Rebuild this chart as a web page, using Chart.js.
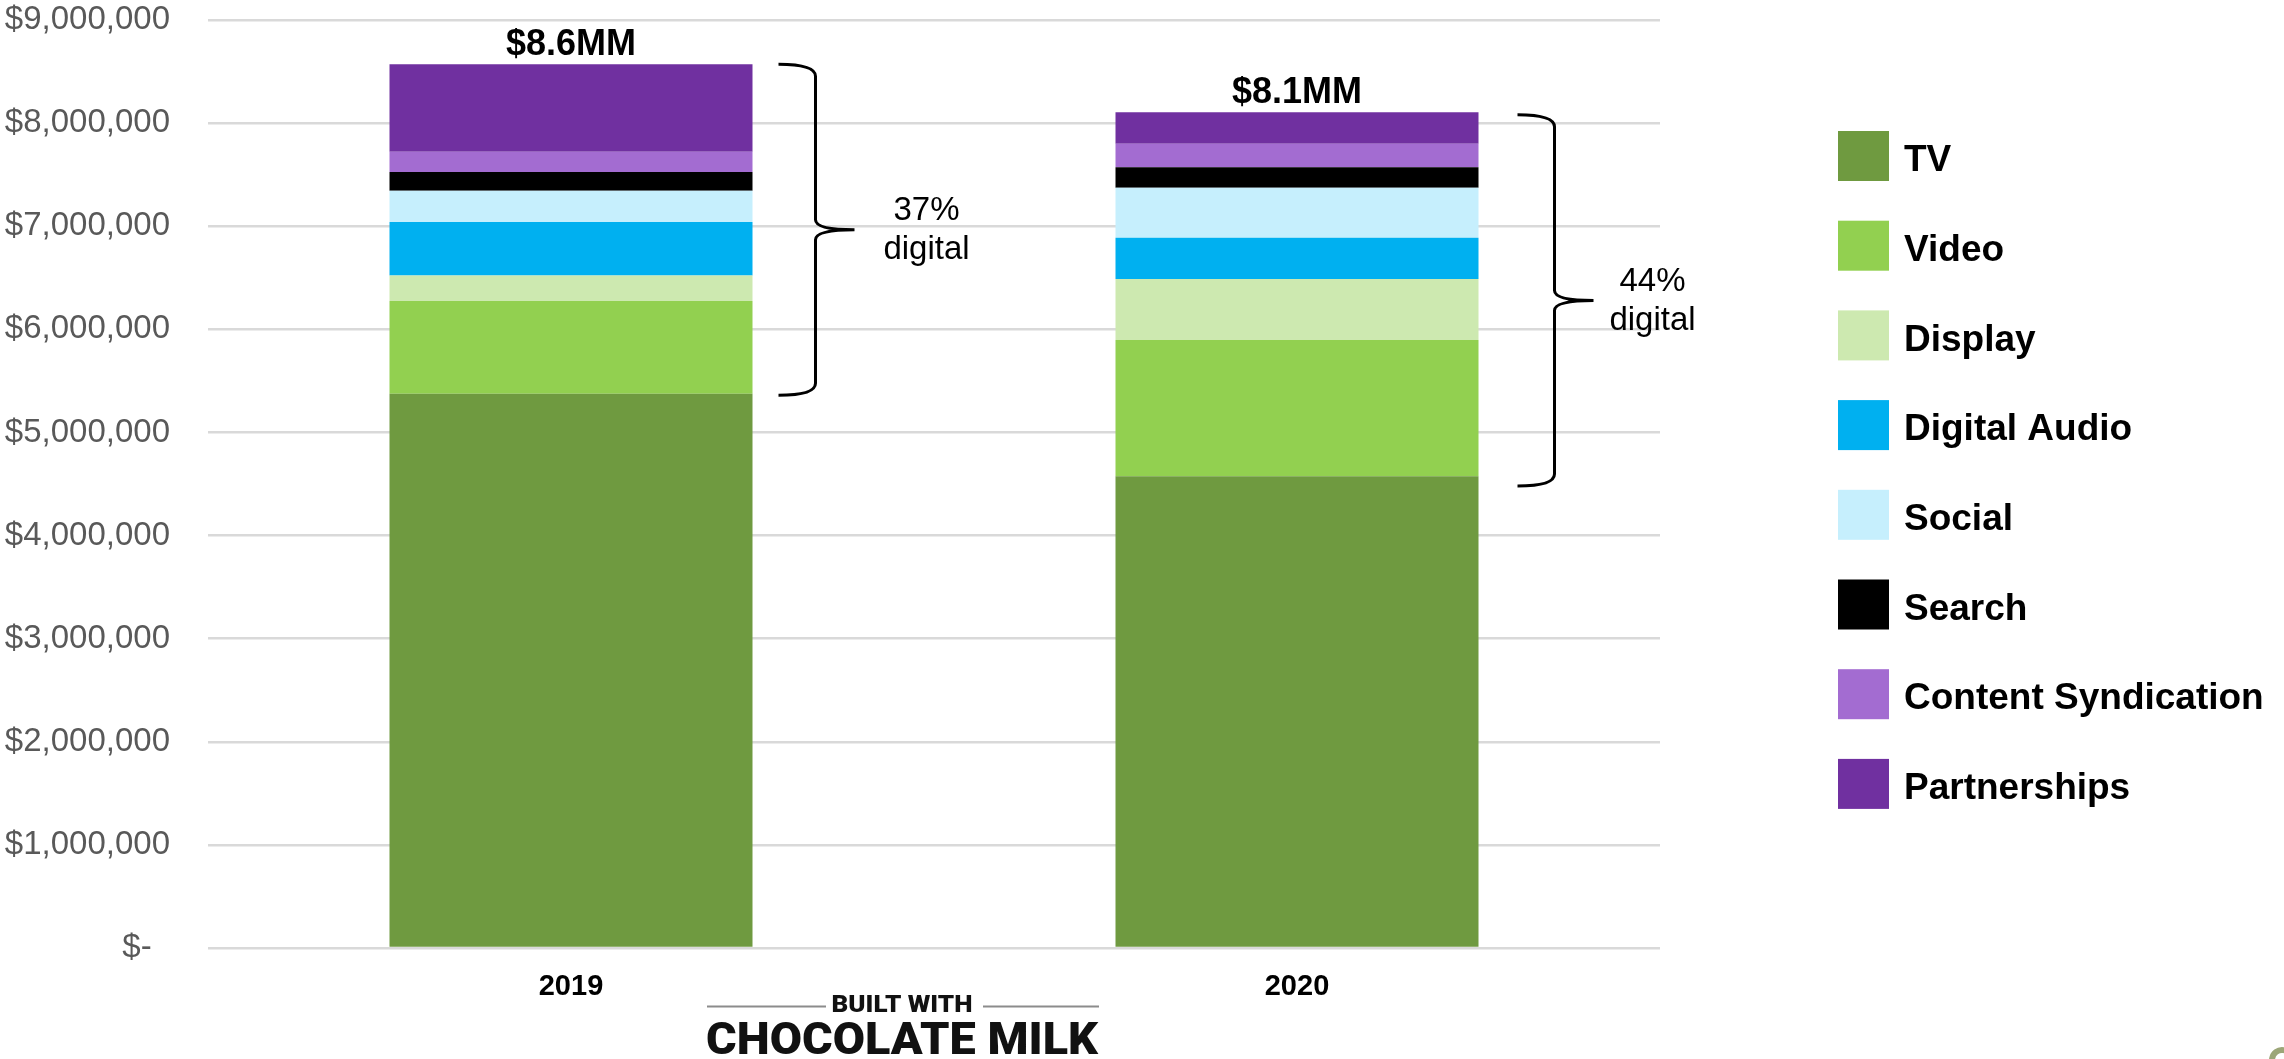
<!DOCTYPE html>
<html>
<head>
<meta charset="utf-8">
<title>Media spend by channel</title>
<script src="https://cdn.jsdelivr.net/npm/chart.js@4.4.1/dist/chart.umd.min.js"></script>
<style>
	html, body { margin: 0; padding: 0; background: #fff; }
	canvas { display: block; }
</style>
</head>
<body>
<canvas id="spendChart" width="2284" height="1059"></canvas>
<script>
// spend per channel, per year
const years = ['2019', '2020'];
const channels = ['TV', 'Video', 'Display', 'Digital Audio', 'Social', 'Search', 'Content Syndication', 'Partnerships'];
const tvSpend = [5375000, 4574000];
const videoSpend = [900000, 1323000];
const displaySpend = [246000, 590000];
const digitalAudioSpend = [520000, 400000];
const socialSpend = [304000, 487000];
const searchSpend = [181000, 197000];
const contentSyndicationSpend = [197000, 229000];
const partnershipsSpend = [849000, 306000];

// value axis
const yTickValues = [0, 1000000, 2000000, 3000000, 4000000, 5000000, 6000000, 7000000, 8000000, 9000000];

// range covered by the "digital" bracket next to each bar
const braceLow = [5360000, 4480000];
const braceHigh = [8570000, 8080000];

const channelColors = ['#6F9A40', '#92D050', '#CDE9B0', '#00B0F0', '#C6EFFD', '#000000', '#A36CD1', '#7030A0'];
const seriesByChannel = [tvSpend, videoSpend, displaySpend, digitalAudioSpend, socialSpend, searchSpend, contentSyndicationSpend, partnershipsSpend];

const totals = years.map((_, i) => seriesByChannel.reduce((sum, s) => sum + s[i], 0));

const FONT = '"Liberation Sans", Arial, Helvetica, sans-serif';
const MARK_FONT = 'Roboto, "Liberation Sans", Arial, sans-serif';

//-----------------Plugins-------------------//
const totalLabels = {
	id: 'totalLabels',
	afterDatasetsDraw(chart) {
		const ctx = chart.ctx;
		const top = chart.getDatasetMeta(chart.data.datasets.length - 1).data;
		ctx.save();
		ctx.font = 'bold 36px ' + FONT;
		ctx.fillStyle = '#000';
		ctx.textAlign = 'center';
		ctx.textBaseline = 'alphabetic';
		top.forEach((bar, i) => {
			ctx.fillText('$' + (totals[i] / 1000000).toFixed(1) + 'MM', bar.x, bar.y - 9);
		});
		ctx.restore();
	}
};

function drawBrace(ctx, x0, yTop, yBot, arm, tip) {
	const x1 = x0 + arm;
	const yMid = (yTop + yBot) / 2;
	ctx.beginPath();
	ctx.moveTo(x0, yTop);
	ctx.quadraticCurveTo(x1, yTop, x1, yTop + 12);
	ctx.lineTo(x1, yMid - 10);
	ctx.quadraticCurveTo(x1, yMid, x1 + tip, yMid);
	ctx.moveTo(x1 + tip, yMid);
	ctx.quadraticCurveTo(x1, yMid, x1, yMid + 10);
	ctx.lineTo(x1, yBot - 12);
	ctx.quadraticCurveTo(x1, yBot, x0, yBot);
	ctx.stroke();
	return yMid;
}

const digitalBraces = {
	id: 'digitalBraces',
	afterDatasetsDraw(chart, args, opts) {
		const ctx = chart.ctx;
		const y = chart.scales.y;
		const bars = chart.getDatasetMeta(0).data;
		ctx.save();
		ctx.strokeStyle = '#000';
		ctx.lineWidth = 3;
		ctx.fillStyle = '#000';
		ctx.font = '33px ' + FONT;
		ctx.textAlign = 'center';
		ctx.textBaseline = 'middle';
		bars.forEach((bar, i) => {
			const right = bar.x + bar.width / 2;
			const yMid = drawBrace(ctx, right + opts.gap[i], y.getPixelForValue(braceHigh[i]), y.getPixelForValue(braceLow[i]), 37, 39);
			const share = Math.round((totals[i] - tvSpend[i]) / totals[i] * 100);
			ctx.fillText(share + '%', right + opts.textOffset, yMid - 19);
			ctx.fillText('digital', right + opts.textOffset, yMid + 20);
		});
		ctx.restore();
	}
};

const sideLegend = {
	id: 'sideLegend',
	afterDraw(chart, args, opts) {
		const ctx = chart.ctx;
		ctx.save();
		ctx.font = 'bold 37px ' + FONT;
		ctx.textBaseline = 'middle';
		ctx.textAlign = 'left';
		chart.data.datasets.forEach((ds, i) => {
			const top = opts.top + i * opts.step;
			ctx.fillStyle = ds.backgroundColor;
			ctx.fillRect(opts.x, top, 51, 50);
			ctx.fillStyle = '#000';
			ctx.fillText(ds.label, opts.x + 66, top + 30);
		});
		ctx.restore();
	}
};

// "built with" mark under the axis, plus the corner swirl
function stretchedText(ctx, text, cx, cy, width) {
	const w = ctx.measureText(text).width;
	ctx.save();
	ctx.translate(cx, cy);
	ctx.scale(width / w, 1);
	ctx.fillText(text, 0, 0);
	ctx.restore();
}

const footerMark = {
	id: 'footerMark',
	afterDraw(chart) {
		const ctx = chart.ctx;
		const cx = 902;
		ctx.save();
		ctx.fillStyle = '#111';
		ctx.textAlign = 'center';
		ctx.textBaseline = 'middle';
		ctx.font = '900 24px ' + MARK_FONT;
		stretchedText(ctx, 'BUILT WITH', cx, 1006, 141);
		ctx.strokeStyle = '#8c8c8c';
		ctx.lineWidth = 2;
		ctx.beginPath();
		ctx.moveTo(707, 1006.5);
		ctx.lineTo(826, 1006.5);
		ctx.moveTo(983, 1006.5);
		ctx.lineTo(1099, 1006.5);
		ctx.stroke();
		ctx.font = '900 44px ' + MARK_FONT;
		stretchedText(ctx, 'CHOCOLATE MILK', cx, 1043, 392);

		ctx.strokeStyle = '#9CA678';
		ctx.lineWidth = 6;
		ctx.lineCap = 'round';
		ctx.beginPath();
		ctx.arc(2282, 1060, 10, Math.PI * 1.05, Math.PI * 1.75);
		ctx.stroke();
		ctx.restore();
	}
};
//-----------------Plugins-------------------//

const ctx = document.getElementById('spendChart');
const spendChart = new Chart(ctx, {
	type: 'bar',
	data: {
		labels: years,
		datasets: channels.map((name, i) => ({
			label: name,
			data: seriesByChannel[i],
			backgroundColor: channelColors[i],
			borderWidth: 0,
			categoryPercentage: 1,
			barPercentage: 0.5
		}))
	},
	options: {
		responsive: false,
		animation: false,
		devicePixelRatio: 1,
		layout: { padding: { top: 20, right: 624, bottom: 0, left: 0 } },
		plugins: {
			legend: { display: false },
			tooltip: { enabled: false },
			digitalBraces: { gap: [26, 39], textOffset: 174 },
			sideLegend: { x: 1838, top: 131, step: 89.7 }
		},
		scales: {
			x: {
				stacked: true,
				grid: { display: false },
				border: { display: false },
				ticks: { color: '#000', font: { family: FONT, size: 29, weight: 'bold' }, padding: 14 },
				afterFit: (scale) => { scale.height = 111; }
			},
			y: {
				stacked: true,
				min: yTickValues[0],
				max: yTickValues[yTickValues.length - 1],
				afterBuildTicks: (scale) => { scale.ticks = yTickValues.map(v => ({ value: v })); },
				grid: { color: '#D9D9D9', lineWidth: 2.5, drawTicks: false },
				border: { display: false },
				ticks: {
					color: '#595959',
					font: { family: FONT, size: 33 },
					padding: 38,
					callback: (v) => v === 0 ? '$-  ' : '$' + v.toLocaleString('en-US')
				},
				afterFit: (scale) => {
					scale.width = 208;
					scale.paddingTop = 0;
					scale.paddingBottom = 0;
				}
			}
		}
	},
	plugins: [totalLabels, digitalBraces, sideLegend, footerMark]
});
</script>
</body>
</html>
